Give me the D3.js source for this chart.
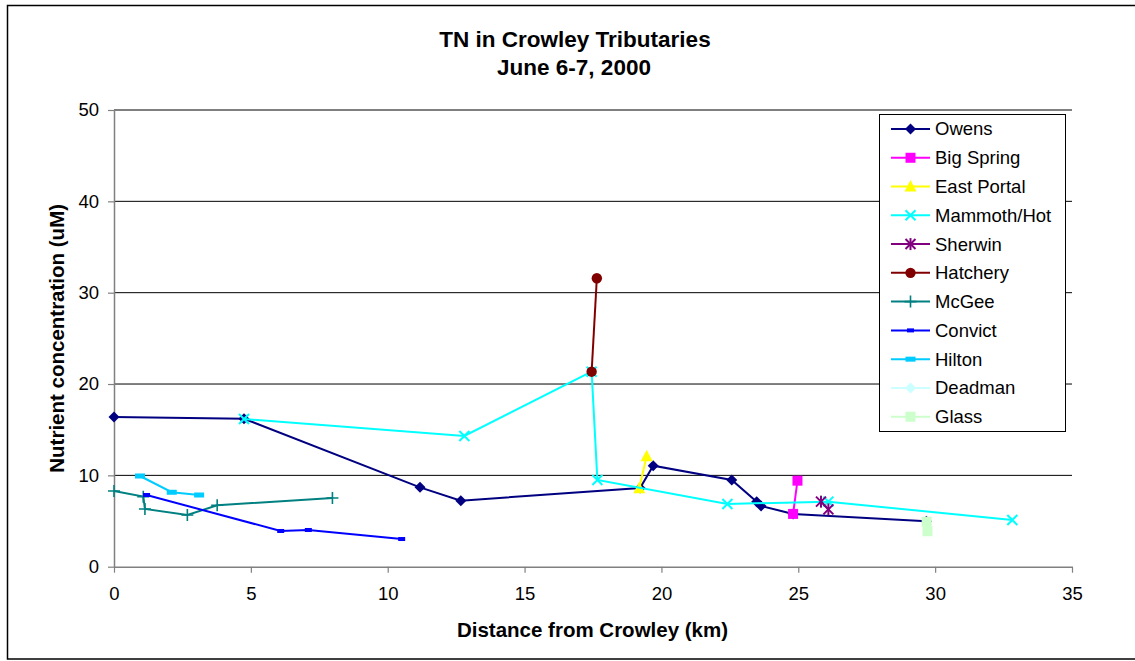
<!DOCTYPE html>
<html>
<head>
<meta charset="utf-8">
<script src="https://cdn.jsdelivr.net/npm/d3@7"></script>
<style>
  body { margin: 0; background: #fff; }
  text { font-family: "Liberation Sans", Arial, sans-serif; }
</style>
</head>
<body>
<div id="chart"></div>
<script>
// Values: [distance km, TN uM]
const owens = [[0, 16.4], [4.75, 16.2], [11.18, 8.69], [12.67, 7.23], [19.22, 8.62], [19.70, 11.06],
  [22.57, 9.49], [23.48, 7.12], [23.64, 6.65], [24.81, 5.78], [29.68, 4.98]];
const bigSpring = [[24.81, 5.78], [24.97, 9.42]];
const eastPortal = [[19.19, 8.6], [19.46, 12.1]];
const mammothHot = [[4.75, 16.17], [12.80, 14.31], [17.45, 21.35], [17.66, 9.49], [22.41, 6.87],
  [26.10, 7.12], [32.82, 5.11]];
const sherwin = [[25.83, 7.12], [26.10, 6.28]];
const hatchery = [[17.45, 21.35], [17.64, 31.58]];
const mcgee = [[0, 8.29], [1.07, 7.67], [1.13, 6.32], [2.68, 5.66], [3.77, 6.72], [7.98, 7.52]];
const convict = [[1.19, 7.85], [6.09, 3.91], [7.10, 4.02], [10.51, 3.03]];
const hilton = [[0.95, 9.93], [2.11, 8.15], [3.11, 7.85]];
const deadman = [];
const glass = [[29.69, 4.93], [29.72, 3.88]];

const xTicks = [0, 5, 10, 15, 20, 25, 30, 35];
const yTicks = [0, 10, 20, 30, 40, 50];
const titleLines = ['TN in Crowley Tributaries', 'June 6-7, 2000'];

// series table: name, data, colour, marker
const series = [
  { name: 'Owens', data: owens, color: '#000080', marker: 'diamond' },
  { name: 'Big Spring', data: bigSpring, color: '#FF00FF', marker: 'square' },
  { name: 'East Portal', data: eastPortal, color: '#FFFF00', marker: 'triangle' },
  { name: 'Mammoth/Hot', data: mammothHot, color: '#00FFFF', marker: 'x' },
  { name: 'Sherwin', data: sherwin, color: '#800080', marker: 'star' },
  { name: 'Hatchery', data: hatchery, color: '#800000', marker: 'circle' },
  { name: 'McGee', data: mcgee, color: '#008080', marker: 'plus' },
  { name: 'Convict', data: convict, color: '#0000FF', marker: 'dash' },
  { name: 'Hilton', data: hilton, color: '#00CCFF', marker: 'wdash' },
  { name: 'Deadman', data: deadman, color: '#CCFFFF', marker: 'diamond' },
  { name: 'Glass', data: glass, color: '#CCFFCC', marker: 'square' }
];

const W = 1135, H = 661;
const plot = { left: 114, right: 1072, top: 110, bottom: 566.7 };

const svg = d3.select('#chart').append('svg')
  .attr('width', W).attr('height', H);

// chart frame
svg.append('rect')
  .attr('x', 7.5).attr('y', 5.5)
  .attr('width', 1140).attr('height', 653.5)
  .attr('fill', '#fff').attr('stroke', '#000').attr('stroke-width', 1.5);

const x = d3.scaleLinear().domain([0, 35]).range([plot.left, plot.right]);
const y = d3.scaleLinear().domain([0, 50]).range([plot.bottom, plot.top]);

// horizontal gridlines
svg.append('g').selectAll('line')
  .data(yTicks.filter(d => d > 0))
  .enter().append('line')
  .attr('x1', plot.left).attr('x2', plot.right)
  .attr('y1', d => y(d)).attr('y2', d => y(d))
  .attr('stroke', '#000').attr('stroke-width', 1);

// axes
const xAxis = svg.append('g')
  .attr('transform', `translate(0,${plot.bottom})`)
  .call(d3.axisBottom(x).tickValues(xTicks).tickSize(6).tickSizeOuter(0).tickPadding(14));
const yAxis = svg.append('g')
  .attr('transform', `translate(${plot.left},0)`)
  .call(d3.axisLeft(y).tickValues(yTicks).tickSize(6).tickSizeOuter(0).tickPadding(9));

[xAxis, yAxis].forEach(a => {
  a.select('.domain').attr('stroke', '#808080').attr('stroke-width', 1.5);
  a.selectAll('.tick line').attr('stroke', '#808080').attr('stroke-width', 1.2);
  a.selectAll('.tick text')
    .attr('fill', '#000')
    .style('font-family', '"Liberation Sans", Arial, sans-serif')
    .style('font-size', '18.5px');
});

// titles
svg.append('text')
  .attr('x', 575).attr('y', 46.5)
  .attr('text-anchor', 'middle')
  .style('font-size', '22.5px').style('font-weight', 'bold')
  .text(titleLines[0]);
svg.append('text')
  .attr('x', 574).attr('y', 74.5)
  .attr('text-anchor', 'middle')
  .style('font-size', '22.5px').style('font-weight', 'bold')
  .text(titleLines[1]);

svg.append('text')
  .attr('x', 592.5).attr('y', 636.5)
  .attr('text-anchor', 'middle')
  .style('font-size', '20.5px').style('font-weight', 'bold')
  .text('Distance from Crowley (km)');

svg.append('text')
  .attr('transform', `translate(64,${(plot.top + plot.bottom) / 2}) rotate(-90)`)
  .attr('text-anchor', 'middle')
  .style('font-size', '20.5px').style('font-weight', 'bold')
  .text('Nutrient concentration (uM)');

// draw one marker into a group at (0,0)
function drawMarker(g, type, color) {
  if (type === 'diamond') {
    g.append('path').attr('d', 'M0,-5.5L5.5,0L0,5.5L-5.5,0Z').attr('fill', color);
  } else if (type === 'square') {
    g.append('rect').attr('x', -5).attr('y', -5).attr('width', 10).attr('height', 10).attr('fill', color);
  } else if (type === 'triangle') {
    g.append('path').attr('d', 'M0,-6.5L6,5L-6,5Z').attr('fill', color);
  } else if (type === 'circle') {
    g.append('circle').attr('r', 5.2).attr('fill', color);
  } else if (type === 'x' || type === 'star') {
    g.append('path').attr('d', 'M-5,-5L5,5M-5,5L5,-5')
      .attr('stroke', color).attr('stroke-width', 2).attr('fill', 'none');
    if (type === 'star') {
      g.append('path').attr('d', 'M0,-6L0,6')
        .attr('stroke', color).attr('stroke-width', 2);
    }
  } else if (type === 'plus') {
    g.append('path').attr('d', 'M-6,0L6,0M0,-6L0,6')
      .attr('stroke', color).attr('stroke-width', 1.6).attr('fill', 'none');
  } else if (type === 'dash') {
    g.append('rect').attr('x', -3.5).attr('y', -2).attr('width', 7).attr('height', 4).attr('fill', color);
  } else if (type === 'wdash') {
    g.append('rect').attr('x', -5).attr('y', -2.5).attr('width', 10).attr('height', 5).attr('fill', color);
  }
}

const line = d3.line().x(d => x(d[0])).y(d => y(d[1]));

// series: line then markers
series.forEach(s => {
  const g = svg.append('g');
  if (s.data.length > 1) {
    g.append('path')
      .datum(s.data)
      .attr('d', line)
      .attr('fill', 'none')
      .attr('stroke', s.color)
      .attr('stroke-width', 2);
  }
  g.selectAll('.pt')
    .data(s.data)
    .enter().append('g')
    .attr('class', 'pt')
    .attr('transform', d => `translate(${x(d[0])},${y(d[1])})`)
    .each(function () { drawMarker(d3.select(this), s.marker, s.color); });
});

// legend
const legend = svg.append('g');
legend.append('rect')
  .attr('x', 879.5).attr('y', 114.5)
  .attr('width', 186).attr('height', 317)
  .attr('fill', '#fff').attr('stroke', '#000').attr('stroke-width', 1);

const rowY = d3.scaleLinear().domain([0, series.length - 1]).range([129, 416.7]);
series.forEach((s, i) => {
  const ry = rowY(i);
  legend.append('line')
    .attr('x1', 891).attr('x2', 930)
    .attr('y1', ry).attr('y2', ry)
    .attr('stroke', s.color).attr('stroke-width', 2);
  drawMarker(legend.append('g').attr('transform', `translate(910.5,${ry})`), s.marker, s.color);
  legend.append('text')
    .attr('x', 935).attr('y', ry)
    .attr('dy', '0.35em')
    .style('font-size', '18.5px')
    .text(s.name);
});
</script>
</body>
</html>
